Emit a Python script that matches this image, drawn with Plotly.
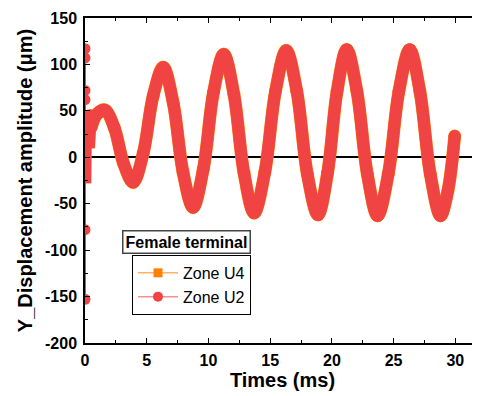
import plotly.graph_objects as go

# ---- data ----
# thin spikes right at t = 0 (Zone U2)
spike_time = [0, 0, 0, 0, 0, 0, 0]
spike_disp = [20, 117, -153, 107, -78, 72, 62]

# jagged start of the thick band
start_time = [0, 0.05, 0.1, 0.15, 0.2, 0.25, 0.3, 0.4, 0.5]
start_disp = [-28, 50, -20, 45, -10, 40, 10, 35, 32]

# smooth oscillation read along the band
main_time = [0.5, 1.0, 1.6, 2.37, 3.13, 3.9, 4.71, 5.52, 6.33, 7.14, 7.94, 8.75,
             9.58, 10.41, 11.24, 12.06, 12.88, 13.7, 14.57, 15.43, 16.3, 17.16,
             18.01, 18.87, 19.65, 20.42, 21.2, 22.03, 22.87, 23.7, 24.57, 25.43,
             26.3, 27.13, 27.97, 28.8, 29.4, 29.95]
main_disp = [32, 47, 51, 32, -7, -27, 4, 66, 97, 59, -16, -54,
             -13, 70, 111, 68, -17, -60, -16, 71, 115, 71,
             -18, -62, -17, 71, 116, 71, -18, -63, -18, 71,
             116, 71, -18, -63, -36, 23]

x_ticks = [0, 5, 10, 15, 20, 25, 30]
y_ticks = [-200, -150, -100, -50, 0, 50, 100, 150]
y_tick_labels = ["-200", "-150", "-100", "-50", "0", "50", "100", "150"]

RED = "#F04343"
ORANGE = "#FF8000"
FONT = "Liberation Sans, Arial, sans-serif"

fig = go.Figure()

# Zone U4 (mostly hidden under U2)
fig.add_trace(go.Scatter(x=start_time, y=start_disp, mode="lines",
                         line=dict(color=ORANGE, width=12.8), showlegend=False,
                         hoverinfo="skip"))
fig.add_trace(go.Scatter(x=main_time, y=main_disp, mode="lines+markers",
                         line=dict(color=ORANGE, width=12.8, shape="spline"),
                         marker=dict(color=ORANGE, size=12.8, symbol="circle"),
                         showlegend=False, hoverinfo="skip"))

# Zone U2
fig.add_trace(go.Scatter(x=spike_time, y=spike_disp, mode="lines+markers",
                         line=dict(color=RED, width=2),
                         marker=dict(color=RED, size=11, symbol="circle"),
                         showlegend=False, hoverinfo="skip"))
fig.add_trace(go.Scatter(x=start_time, y=start_disp, mode="lines",
                         line=dict(color=RED, width=12), showlegend=False,
                         hoverinfo="skip"))
fig.add_trace(go.Scatter(x=main_time, y=main_disp, mode="lines+markers",
                         line=dict(color=RED, width=12, shape="spline"),
                         marker=dict(color=RED, size=12, symbol="circle"),
                         showlegend=False, hoverinfo="skip"))

# legend entries
fig.add_trace(go.Scatter(x=[None], y=[None], mode="lines+markers", name="Zone U4",
                         line=dict(color="#FFB266", width=1.5),
                         marker=dict(color=ORANGE, size=9, symbol="square")))
fig.add_trace(go.Scatter(x=[None], y=[None], mode="lines+markers", name="Zone U2",
                         line=dict(color="#F49090", width=1.5),
                         marker=dict(color=RED, size=10, symbol="circle")))

axis_common = dict(showline=True, linecolor="black", linewidth=1.5,
                   ticks="inside", ticklen=5, tickwidth=1.2, tickcolor="black",
                   showgrid=False, automargin=False,
                   tickfont=dict(family=FONT, size=16, color="black", weight="bold"),
                   minor=dict(ticks="inside", ticklen=3, tickwidth=1.2, tickcolor="black"))

fig.update_xaxes(range=[0, 32], tickvals=x_ticks, mirror="ticks", zeroline=False,
                 minor_dtick=2.5, ticklabelstandoff=2,
                 title=dict(text="Times (ms)", standoff=4,
                            font=dict(family=FONT, size=20, color="black", weight="bold")),
                 **axis_common)
fig.update_yaxes(range=[-200, 150], tickvals=y_ticks, ticktext=y_tick_labels,
                 mirror=False,
                 zeroline=True, zerolinecolor="black", zerolinewidth=1.5,
                 minor_dtick=25, ticklabelstandoff=3,
                 title=dict(text="Y_Displacement amplitude (μm)", standoff=7,
                            font=dict(family=FONT, size=20, color="black", weight="bold")),
                 **axis_common)

fig.add_annotation(x=0.256, y=0.312, xref="paper", yref="paper",
                   xanchor="center", yanchor="middle",
                   text="Female terminal", showarrow=False,
                   font=dict(family=FONT, size=16, color="black", weight="bold"),
                   bgcolor="white", bordercolor="#444444", borderwidth=1.5, borderpad=2)

# the page body adds an 8 px offset, so the figure is 8 px smaller each way
fig.update_layout(
    width=472, height=388,
    margin=dict(l=77, r=0, t=10, b=53),
    plot_bgcolor="white", paper_bgcolor="white",
    showlegend=True,
    legend=dict(x=0.119, y=0.271, xanchor="left", yanchor="top",
                bordercolor="black", borderwidth=1, bgcolor="white",
                font=dict(family=FONT, size=16, color="black"),
                itemwidth=40, tracegroupgap=0),
)

fig.write_html("out.html")
